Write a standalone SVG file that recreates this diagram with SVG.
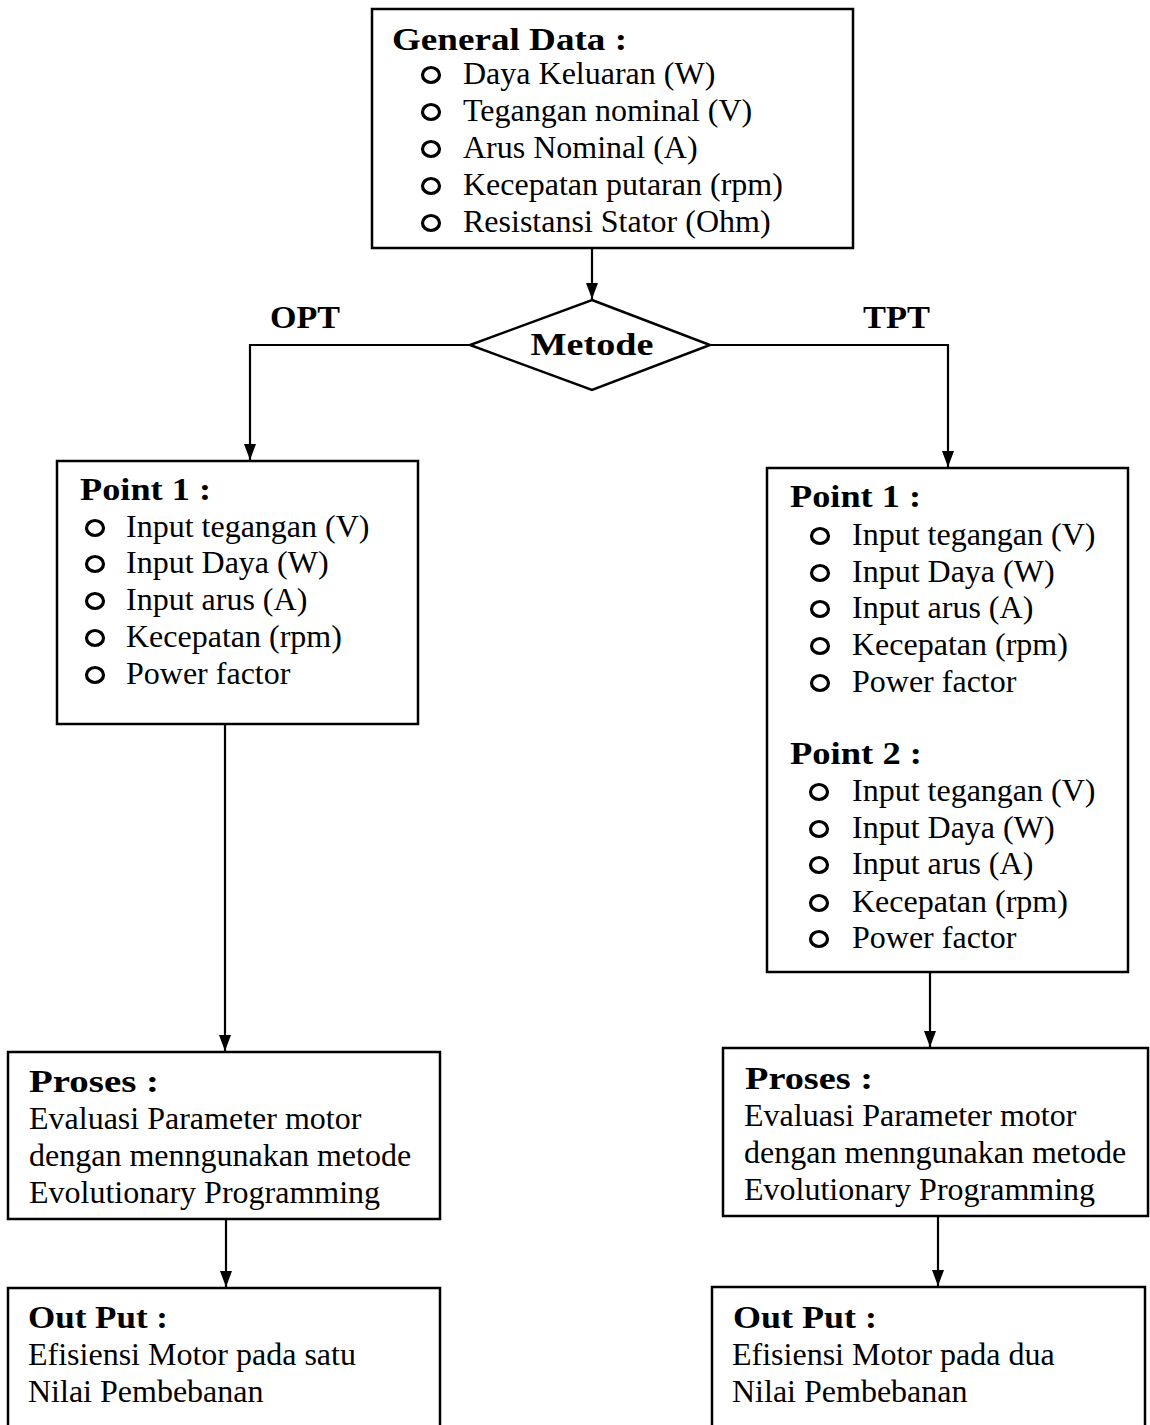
<svg xmlns="http://www.w3.org/2000/svg" width="1150" height="1425" viewBox="0 0 1150 1425">
<style>
.box{fill:#fff;stroke:#000;stroke-width:2.5}
.t{font-family:"Liberation Serif","Times New Roman",serif;font-size:32px;fill:#000}
.h{font-family:"Liberation Serif","Times New Roman",serif;font-size:32px;font-weight:bold;fill:#000}
.b{fill:none;stroke:#000;stroke-width:3.2}
.ln{fill:none;stroke:#000;stroke-width:2.2}
</style>
<defs>
<marker id="ah" viewBox="0 0 16 12" refX="16" refY="6" markerWidth="16" markerHeight="12" markerUnits="userSpaceOnUse" orient="auto">
<path d="M0,0 L16,6 L0,12 Z" fill="#000"/>
</marker>
<ellipse id="bul" cx="0" cy="0" rx="8.5" ry="7.5" class="b"/>
</defs>
<rect width="1150" height="1425" fill="#fff"/>

<g id="connectors">
<line class="ln" x1="592" y1="248" x2="592" y2="299" marker-end="url(#ah)"/>
<polyline class="ln" points="470,345 250,345 250,460" marker-end="url(#ah)"/>
<polyline class="ln" points="710,345 948,345 948,467" marker-end="url(#ah)"/>
<line class="ln" x1="225" y1="724" x2="225" y2="1051" marker-end="url(#ah)"/>
<line class="ln" x1="226" y1="1219" x2="226" y2="1287" marker-end="url(#ah)"/>
<line class="ln" x1="930" y1="972" x2="930" y2="1047" marker-end="url(#ah)"/>
<line class="ln" x1="938" y1="1216" x2="938" y2="1286" marker-end="url(#ah)"/>
<text class="h" x="270" y="328" textLength="70" lengthAdjust="spacingAndGlyphs">OPT</text>
<text class="h" x="863" y="328" textLength="67" lengthAdjust="spacingAndGlyphs">TPT</text>
</g>

<g id="general-data">
<rect class="box" x="372" y="9" width="481" height="239"/>
<text class="h" x="392" y="50" textLength="235" lengthAdjust="spacingAndGlyphs">General Data :</text>
<use href="#bul" x="431" y="75"/><text class="t" x="463" y="84">Daya Keluaran (W)</text>
<use href="#bul" x="431" y="112"/><text class="t" x="463" y="121">Tegangan nominal (V)</text>
<use href="#bul" x="431" y="149"/><text class="t" x="463" y="158">Arus Nominal (A)</text>
<use href="#bul" x="431" y="186"/><text class="t" x="463" y="195">Kecepatan putaran (rpm)</text>
<use href="#bul" x="431" y="223"/><text class="t" x="463" y="232">Resistansi Stator (Ohm)</text>
</g>

<g id="metode">
<polygon class="box" points="592,300 710,345 592,390 470,345"/>
<text class="h" x="592" y="355" text-anchor="middle" textLength="123" lengthAdjust="spacingAndGlyphs">Metode</text>
</g>

<g id="opt-point">
<rect class="box" x="57" y="461" width="361" height="263"/>
<text class="h" x="80" y="500" textLength="131" lengthAdjust="spacingAndGlyphs">Point 1 :</text>
<use href="#bul" x="95" y="528"/><text class="t" x="126" y="537">Input tegangan (V)</text>
<use href="#bul" x="95" y="564"/><text class="t" x="126" y="573">Input Daya (W)</text>
<use href="#bul" x="95" y="601"/><text class="t" x="126" y="610">Input arus (A)</text>
<use href="#bul" x="95" y="638"/><text class="t" x="126" y="647">Kecepatan (rpm)</text>
<use href="#bul" x="95" y="675"/><text class="t" x="126" y="684">Power factor</text>
</g>

<g id="tpt-point">
<rect class="box" x="767" y="468" width="361" height="504"/>
<text class="h" x="790" y="507" textLength="131" lengthAdjust="spacingAndGlyphs">Point 1 :</text>
<use href="#bul" x="820" y="536"/><text class="t" x="852" y="545">Input tegangan (V)</text>
<use href="#bul" x="820" y="573"/><text class="t" x="852" y="582">Input Daya (W)</text>
<use href="#bul" x="820" y="609"/><text class="t" x="852" y="618">Input arus (A)</text>
<use href="#bul" x="820" y="646"/><text class="t" x="852" y="655">Kecepatan (rpm)</text>
<use href="#bul" x="820" y="683"/><text class="t" x="852" y="692">Power factor</text>
<text class="h" x="790" y="764" textLength="132" lengthAdjust="spacingAndGlyphs">Point 2 :</text>
<use href="#bul" x="819" y="792"/><text class="t" x="852" y="801">Input tegangan (V)</text>
<use href="#bul" x="819" y="829"/><text class="t" x="852" y="838">Input Daya (W)</text>
<use href="#bul" x="819" y="865"/><text class="t" x="852" y="874">Input arus (A)</text>
<use href="#bul" x="819" y="903"/><text class="t" x="852" y="912">Kecepatan (rpm)</text>
<use href="#bul" x="819" y="939"/><text class="t" x="852" y="948">Power factor</text>
</g>

<g id="opt-proses">
<rect class="box" x="8" y="1052" width="432" height="167"/>
<text class="h" x="29" y="1092" textLength="130" lengthAdjust="spacingAndGlyphs">Proses :</text>
<text class="t" x="29" y="1129">Evaluasi Parameter motor</text>
<text class="t" x="29" y="1166">dengan menngunakan metode</text>
<text class="t" x="29" y="1203">Evolutionary Programming</text>
</g>

<g id="opt-output">
<rect class="box" x="8" y="1288" width="432" height="160"/>
<text class="h" x="28" y="1328" textLength="140" lengthAdjust="spacingAndGlyphs">Out Put :</text>
<text class="t" x="28" y="1365">Efisiensi Motor pada satu</text>
<text class="t" x="28" y="1402">Nilai Pembebanan</text>
</g>

<g id="tpt-proses">
<rect class="box" x="723" y="1048" width="425" height="168"/>
<text class="h" x="745" y="1089" textLength="128" lengthAdjust="spacingAndGlyphs">Proses :</text>
<text class="t" x="744" y="1126">Evaluasi Parameter motor</text>
<text class="t" x="744" y="1163">dengan menngunakan metode</text>
<text class="t" x="744" y="1200">Evolutionary Programming</text>
</g>

<g id="tpt-output">
<rect class="box" x="712" y="1287" width="433" height="160"/>
<text class="h" x="733" y="1328" textLength="144" lengthAdjust="spacingAndGlyphs">Out Put :</text>
<text class="t" x="732" y="1365">Efisiensi Motor pada dua</text>
<text class="t" x="732" y="1402">Nilai Pembebanan</text>
</g>
</svg>
